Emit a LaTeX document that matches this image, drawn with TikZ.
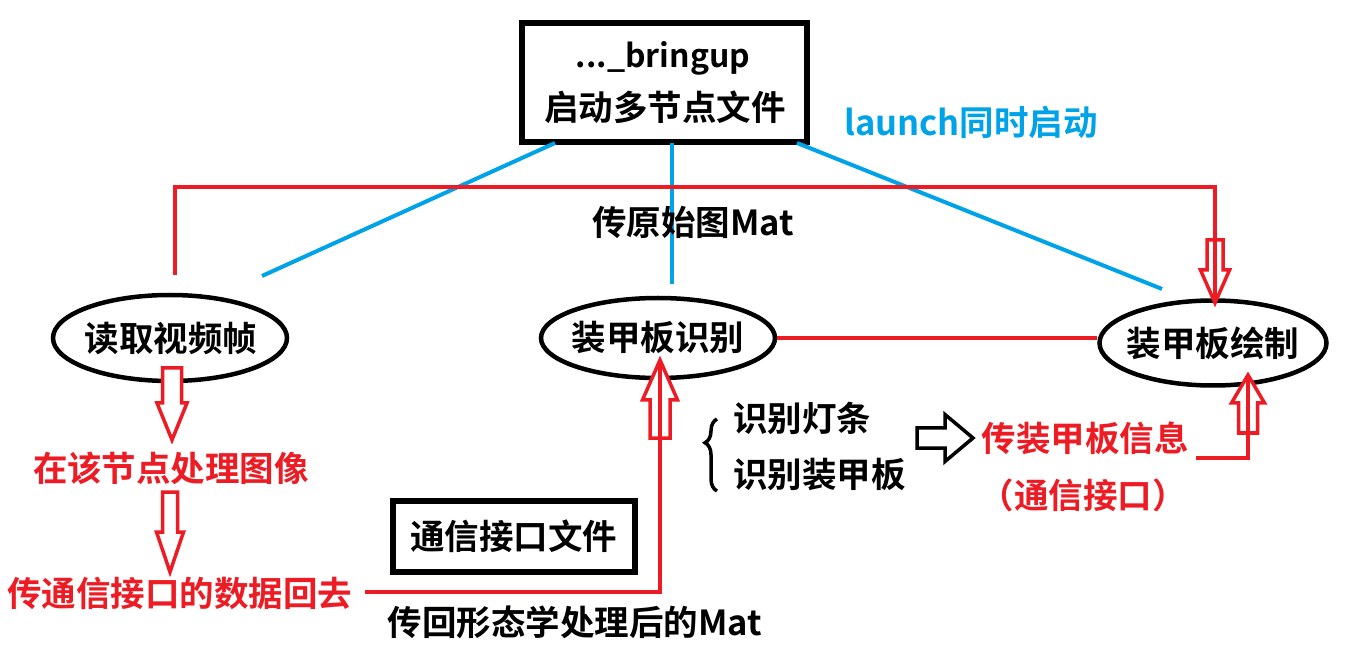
\documentclass[tikz,border=0pt]{standalone}
\usepackage{fontspec}
\setmainfont{Noto Sans CJK SC}[BoldFont={* Bold}]
\usetikzlibrary{shapes.geometric,decorations.pathreplacing,calc}
\definecolor{myred}{RGB}{237,28,36}
\definecolor{myblue}{RGB}{0,162,232}
\newcommand\hollowarr[7]{%
  \begin{scope}[shift={#2},rotate=#3]
    \draw[#1,line width=3.5pt,line join=miter,fill=white]
      (0,0) -- (-#4,#5) -- (-#4,#6) -- (-#4-#7,#6) -- (-#4-#7,-#6) -- (-#4,-#6) -- (-#4,-#5) -- cycle;
  \end{scope}}
\tikzset{
  txt/.style={font=\bfseries\fontsize{34.5}{40}\selectfont, inner sep=0pt},
  oval/.style={ellipse, draw=black, line width=4.5pt, inner sep=0pt},
  boxed/.style={draw=black, line width=6pt, txt},
  redline/.style={draw=myred, line width=4pt},
  blueline/.style={draw=myblue, line width=4pt},
}
\begin{document}
\begin{tikzpicture}[x=1pt,y=-1pt]
\useasboundingbox (0,0) rectangle (1345,668);

% top box
\node[boxed, minimum width=285pt, minimum height=119pt, align=center] (top) at (664.5,82.5) {};
\node[txt, font=\bfseries\fontsize{32}{38}\selectfont] (tl1) at (663,58) {...\_bringup};
\node[txt] (tl2) at (665,107) {启动多节点文件};
\node[txt, text=myblue, anchor=west] (launch) at (844,122) {launch同时启动};

% ellipses
\node[oval, minimum width=234pt, minimum height=86pt] (read) at (170,338) {};
\node[txt] (readt) at (171,338) {读取视频帧};
\node[oval, minimum width=234pt, minimum height=80pt] (recog) at (658,338) {};
\node[txt] (recogt) at (658,338) {装甲板识别};
\node[oval, minimum width=227pt, minimum height=85pt] (drawn) at (1213,343) {};
\node[txt] (drawnt) at (1213,343) {装甲板绘制};

% blue launch lines
\coordinate (b1s) at (555,143); \coordinate (b1e) at (262,276);
\coordinate (b2s) at (672,143); \coordinate (b2e) at (672,284);
\coordinate (b3s) at (797,143); \coordinate (b3e) at (1162,289);
\draw[blueline] (b1s) -- (b1e);
\draw[blueline] (b2s) -- (b2e);
\draw[blueline] (b3s) -- (b3e);

\node[txt] (mat1) at (693,222) {传原始图Mat};

% red top connector
\coordinate (r1) at (175,275);
\coordinate (tipTop) at (1215,303);
\draw[redline] (r1) |- (1215,187) -- (1215,240);
\hollowarr{myred}{(tipTop)}{-90}{33}{14.5}{8}{30}
\draw[redline] (1215,240) -- (tipTop);

% red middle-right connector
\draw[redline] (recog.east) -- (recog.east -| drawn.west);

% left column
\coordinate (tipL1) at (172,440);
\hollowarr{myred}{(tipL1)}{-90}{37}{15}{9.5}{35}
\node[txt, text=myred] (proc) at (171,468) {在该节点处理图像};
\coordinate (tipL2) at (170,572);
\hollowarr{myred}{(tipL2)}{-90}{40}{13.5}{7.5}{40}
\node[txt, text=myred] (back) at (180,593) {传通信接口的数据回去};

% return connector to recog
\coordinate (tipM) at (660,360);
\hollowarr{myred}{(tipM)}{90}{40}{17.5}{10}{38}
\coordinate (bstart) at (365,592);
\draw[redline] (bstart) -- (660,592) -- (tipM);

\node[boxed, minimum width=242pt, minimum height=71pt] (iface) at (513.5,536) {通信接口文件};
\node[txt] (mat2) at (575,622) {传回形态学处理后的Mat};

% brace and items
\draw[line width=3.5pt, decorate, decoration={brace, amplitude=12pt, aspect=0.67}] (717,491) -- (717,419);
\node[txt, anchor=west] (i1) at (733,418) {识别灯条};
\node[txt, anchor=west] (i2) at (733,475) {识别装甲板};

\coordinate (tipB) at (973,438);
\hollowarr{black}{(tipB)}{0}{28}{23.5}{10}{28}

\node[txt, text=myred] (info) at (1085,438) {传装甲板信息};
\node[txt, text=myred] (info2) at (1083,495) {（通信接口）};

\coordinate (tipR) at (1248,375);
\hollowarr{myred}{(tipR)}{90}{28}{16.5}{9.5}{30}
\draw[redline] (1196,458) -- (1248,458) -- (tipR);
\end{tikzpicture}
\end{document}
